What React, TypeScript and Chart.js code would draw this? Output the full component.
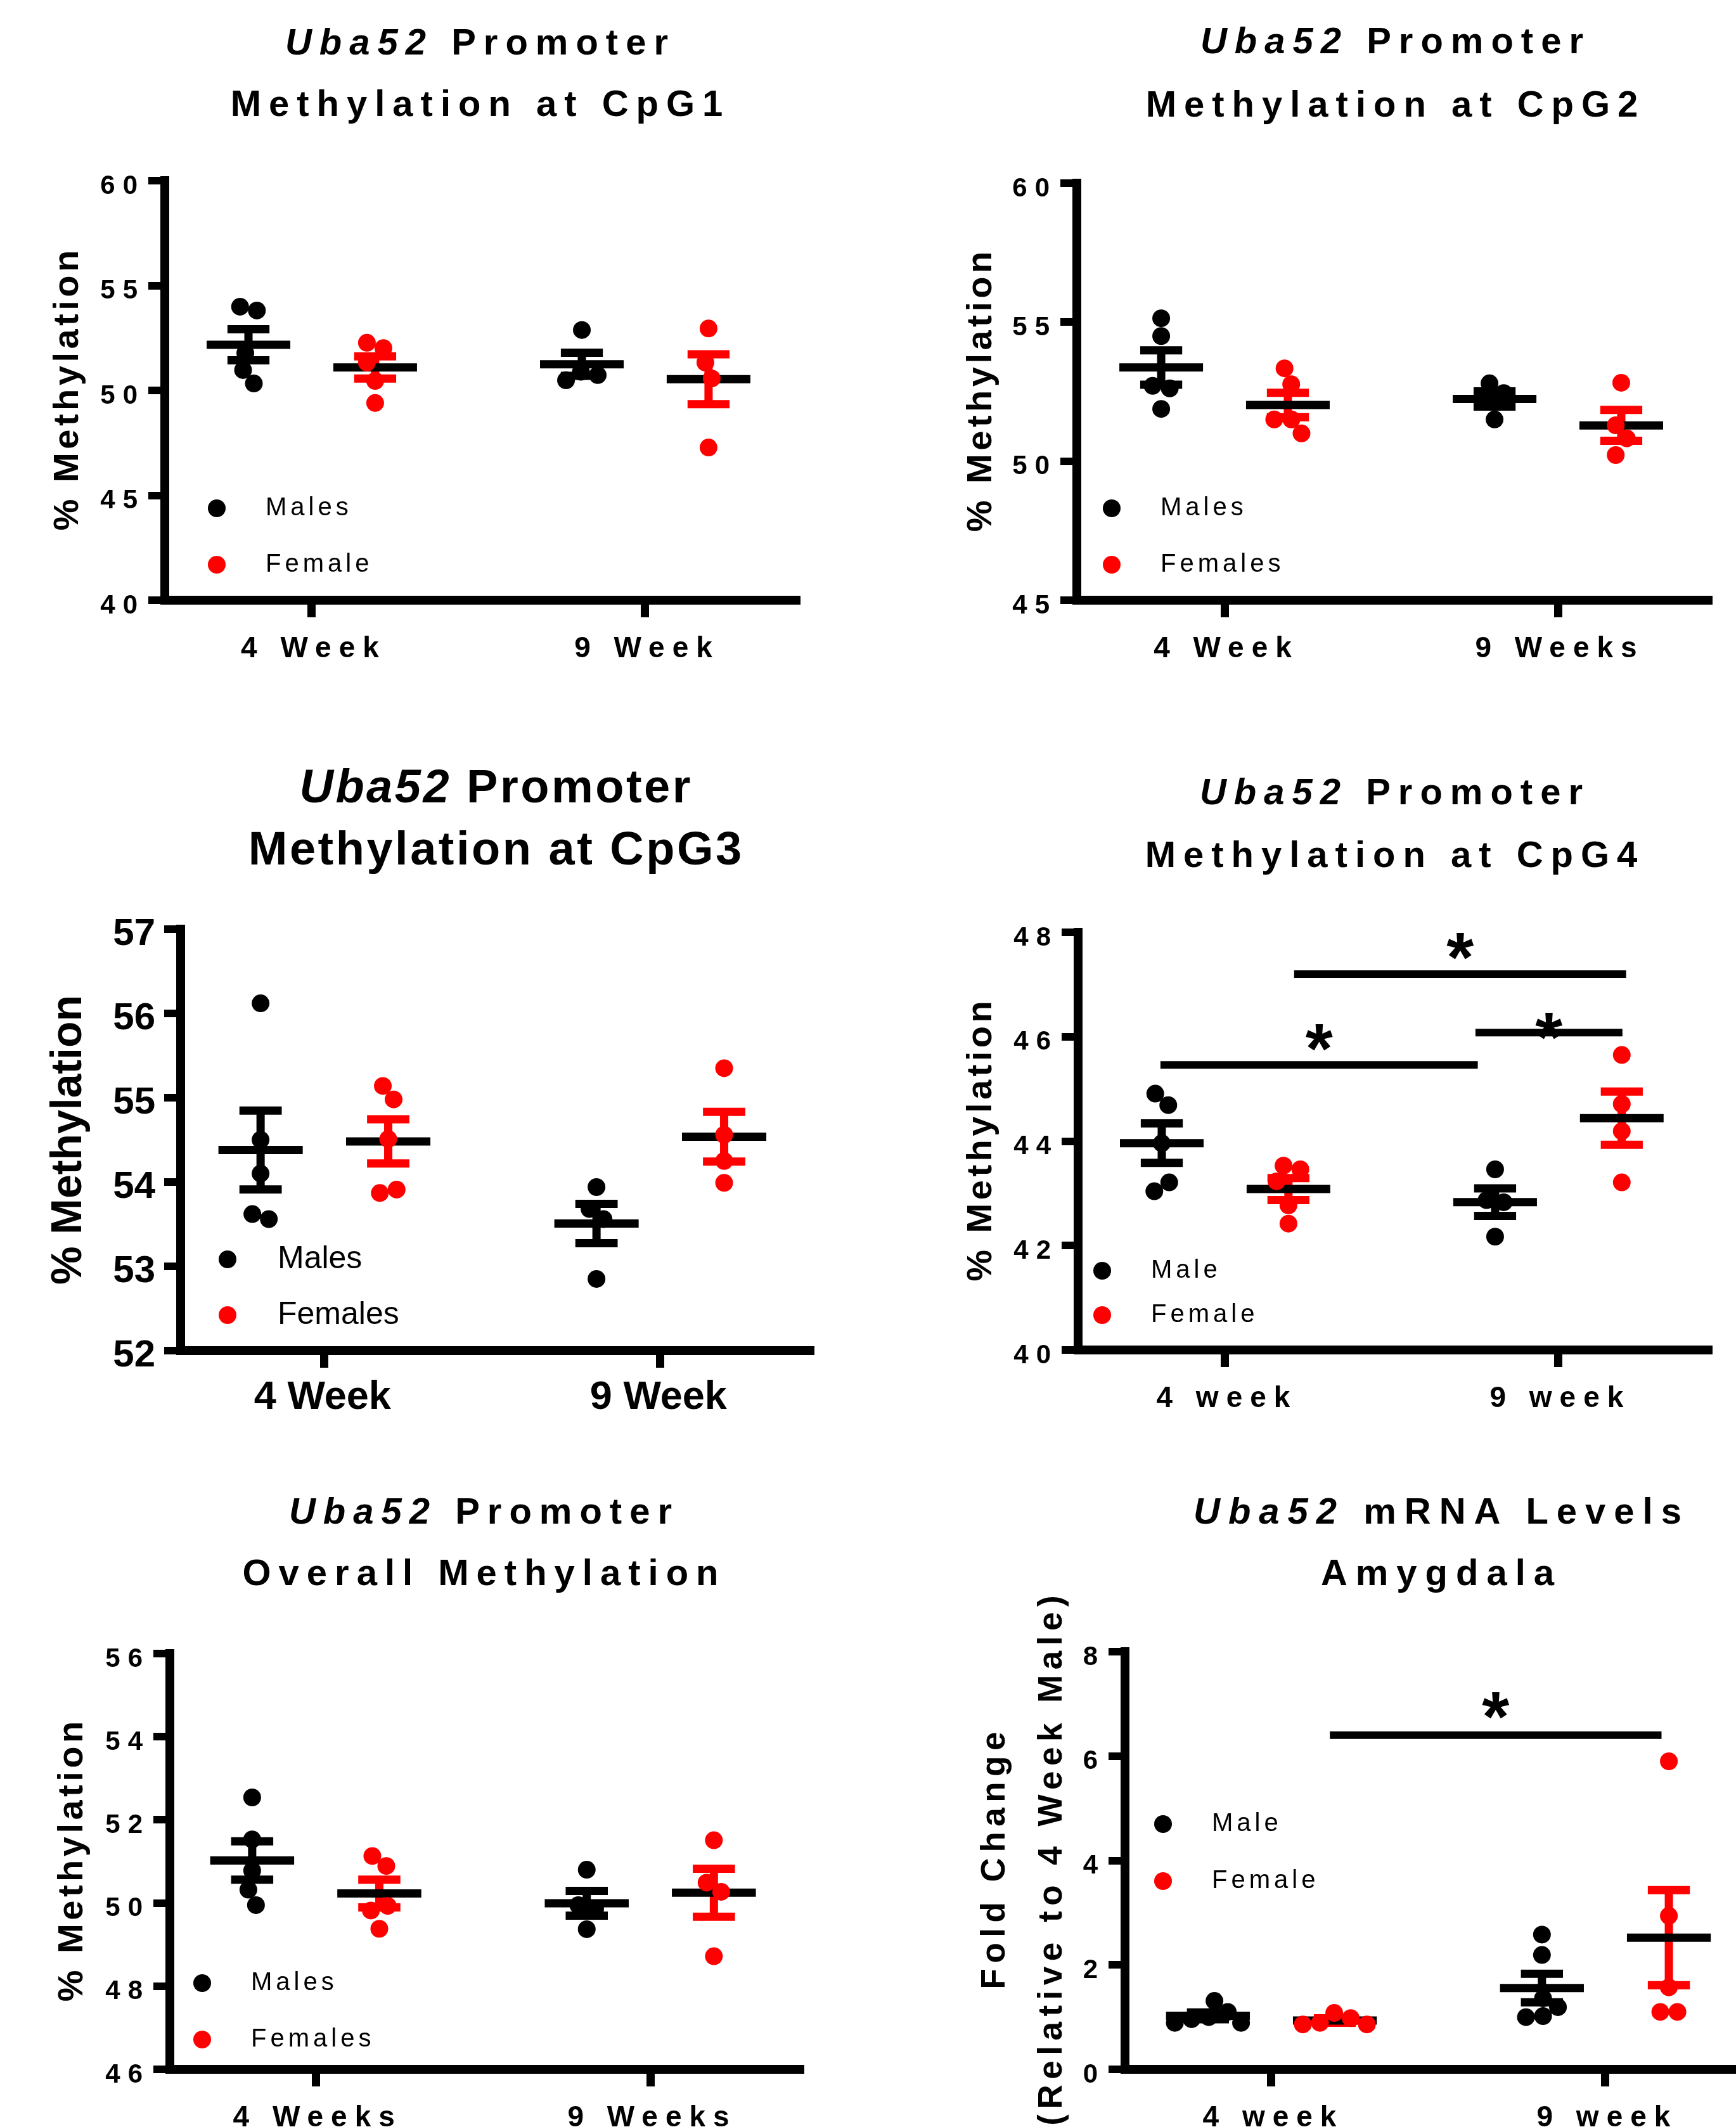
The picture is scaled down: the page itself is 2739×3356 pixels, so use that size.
import React, { useEffect, useRef } from 'react';
import { Chart, registerables } from 'chart.js';

Chart.register(...registerables);

// ---------------- data ----------------
// CpG1
const cpg1Ticks = ['4 Week', '9 Week'];
const cpg1Legend = ['Males', 'Female'];
const cpg1Male4 = [53.99, 53.81, 51.78, 50.97, 50.33];
const cpg1Female4 = [52.27, 52.02, 51.33, 50.45, 49.4];
const cpg1Male9 = [52.88, 50.89, 50.73, 50.48];
const cpg1Female9 = [52.95, 51.33, 50.57, 47.28];

// CpG2
const cpg2Ticks = ['4 Week', '9 Weeks'];
const cpg2Legend = ['Males', 'Females'];
const cpg2Male4 = [55.14, 54.5, 52.71, 52.62, 51.88];
const cpg2Female4 = [53.34, 52.77, 51.5, 51.5, 51.0];
const cpg2Male9 = [52.8, 52.45, 52.2, 51.5];
const cpg2Female9 = [52.82, 51.29, 50.82, 50.22];

// CpG3
const cpg3Ticks = ['4 Week', '9 Week'];
const cpg3Legend = ['Males', 'Females'];
const cpg3Male4 = [56.12, 54.5, 54.1, 53.62, 53.56];
const cpg3Female4 = [55.14, 54.98, 54.51, 53.91, 53.87];
const cpg3Male9 = [53.94, 53.68, 53.56, 52.85];
const cpg3Female9 = [55.35, 54.56, 54.25, 53.99];

// CpG4
const cpg4Ticks = ['4 week', '9 week'];
const cpg4Legend = ['Male', 'Female'];
const cpg4Male4 = [44.91, 44.69, 43.96, 43.21, 43.04];
const cpg4Female4 = [43.53, 43.46, 43.23, 42.77, 42.42];
const cpg4Male9 = [43.46, 42.87, 42.83, 42.17];
const cpg4Female9 = [45.65, 44.71, 44.19, 43.21];
const cpg4SigBars = [
  { x1: 0.806, x2: 1.758, y: 45.46 },
  { x1: 1.207, x2: 2.203, y: 47.2 },
  { x1: 1.751, x2: 2.192, y: 46.08 },
];

// Overall
const overallTicks = ['4 Weeks', '9 Weeks'];
const overallLegend = ['Males', 'Females'];
const overallMale4 = [52.54, 51.53, 50.78, 50.32, 49.95];
const overallFemale4 = [51.13, 50.89, 49.93, 49.82, 49.38];
const overallMale9 = [50.8, 49.95, 49.86, 49.37];
const overallFemale9 = [51.51, 50.49, 50.27, 48.72];

// mRNA
const mrnaTicks = ['4 week', '9 week'];
const mrnaLegend = ['Male', 'Female'];
const mrnaMale4 = [1.31, 1.1, 1.0, 0.96, 0.89, 0.89];
const mrnaFemale4 = [1.08, 0.98, 0.89, 0.86, 0.86];
const mrnaMale9 = [2.58, 2.19, 1.36, 1.19, 1.02, 1.0];
const mrnaFemale9 = [5.9, 2.94, 1.57, 1.1, 1.1];
const mrnaSigBars = [{ x1: 1.175, x2: 2.168, y: 6.4 }];

// ---------------- styles / layout ----------------
const FONT = "'Liberation Sans', Arial, Helvetica, sans-serif";
const BLACK = '#000000';
const RED = '#ff0000';
const SEX_COLORS = [BLACK, RED];
const POINT_R = 14;
const GROUP_OFFSET = 0.19;
const MEAN_HALF = 0.1255;
const CAP_HALF = 0.063;
const SWARM_DIST = 27;
const STAR_H = 42;
const Y_AXIS_W = 240;
const X_AXIS_H = 130;
const TOP_PAD = 120;

function mean(a: number[]) {
  return a.reduce((s, v) => s + v, 0) / a.length;
}
function sem(a: number[]) {
  const m = mean(a);
  const v = a.reduce((s, x) => s + (x - m) * (x - m), 0) / (a.length - 1);
  return Math.sqrt(v / a.length);
}

// beeswarm layout (pixel space), then each collision cluster is centred on the group
function swarm(values: number[], center: number, pxX: number, pxY: number) {
  const idx = values.map((_, i) => i).sort((a, b) => values[b] - values[a]);
  const off: number[] = new Array(values.length).fill(0);
  const py = values.map((v) => v * pxY);
  const placed: number[] = [];
  let lastSide = -1;
  for (const i of idx) {
    let chosen = 0;
    outer: for (let a = 0; a < 400; a += 0.5) {
      const sides = a === 0 ? [0] : [-lastSide * a, lastSide * a];
      for (const cand of sides) {
        if (placed.every((j) => Math.hypot(off[j] - cand, py[j] - py[i]) >= SWARM_DIST)) {
          chosen = cand;
          break outer;
        }
      }
    }
    off[i] = chosen;
    if (chosen !== 0) lastSide = Math.sign(chosen);
    placed.push(i);
  }
  const clusters: number[][] = [];
  idx.forEach((i, k) => {
    if (k > 0 && Math.abs(py[idx[k - 1]] - py[i]) < SWARM_DIST) clusters[clusters.length - 1].push(i);
    else clusters.push([i]);
  });
  clusters.forEach((c) => {
    const mn = Math.min(...c.map((i) => off[i]));
    const mx = Math.max(...c.map((i) => off[i]));
    const shift = (mn + mx) / 2;
    c.forEach((i) => (off[i] -= shift));
  });
  return values.map((v, i) => ({ x: center + off[i] / pxX, y: v }));
}

type Panel = {
  id: string;
  L: number; T: number; R: number; B: number; pr: number;
  xMin: number; xMax: number; yMin: number; yMax: number; yStep: number;
  ticks: string[]; legend: string[]; groups: number[][];
  sig: { x1: number; x2: number; y: number }[]; starLift: number[];
  yTitle: string[]; yTitleOffsets: number[]; yTitleSize: number; yTitleSpacing: number;
  yTickSize: number; xTickSize: number; tickSpacing: number; yPad: number; xPad: number; yLabelOffset: number;
  legendDx: number; legendRows: number[]; legendSize: number; legendSpacing: number; legendTextDx: number;
  titleItalic: string; titleRest: string; titleLine2: string;
  titleX: number; titleTop: number; titleSize: number; titleLH: number; titleSpacing: number;
};

const base = {
  pr: 20, yStep: 5, sig: [], starLift: [],
  yTitleSize: 56, yTitleSpacing: 5.5,
  yTickSize: 42, xTickSize: 46, tickSpacing: 12, yPad: 5, xPad: 23, yLabelOffset: 9,
  legendSize: 40, legendSpacing: 6, legendTextDx: 77,
  titleSize: 58, titleSpacing: 12, titleItalic: 'Uba52',
};

const PANELS: Panel[] = [
  {
    ...base, id: 'cpg1',
    L: 260, T: 285, R: 1256, B: 947, xMin: 0.559, xMax: 2.4525, yMin: 40, yMax: 60, yStep: 5,
    ticks: cpg1Ticks, legend: cpg1Legend, groups: [cpg1Male4, cpg1Female4, cpg1Male9, cpg1Female9],
    yTitle: ['% Methylation'], yTitleOffsets: [152],
    legendDx: 82, legendRows: [145, 56],
    titleRest: ' Promoter', titleLine2: 'Methylation at CpG1',
    titleX: 752, titleTop: 17.4, titleLH: 97,
  },
  {
    ...base, id: 'cpg2',
    L: 1699, T: 289, R: 2695, B: 947, xMin: 0.557, xMax: 2.4505, yMin: 45, yMax: 60, yStep: 5,
    ticks: cpg2Ticks, legend: cpg2Legend, groups: [cpg2Male4, cpg2Female4, cpg2Male9, cpg2Female9],
    yTitle: ['% Methylation'], yTitleOffsets: [150],
    legendDx: 55, legendRows: [145, 56],
    titleRest: ' Promoter', titleLine2: 'Methylation at CpG2',
    titleX: 2196, titleTop: 13.9, titleLH: 100,
  },
  {
    ...base, id: 'cpg3',
    L: 285, T: 1466, R: 1278, B: 2131, xMin: 0.572, xMax: 2.4456, yMin: 52, yMax: 57, yStep: 1,
    ticks: cpg3Ticks, legend: cpg3Legend, groups: [cpg3Male4, cpg3Female4, cpg3Male9, cpg3Female9],
    yTitle: ['% Methylation'], yTitleOffsets: [176], yTitleSize: 68, yTitleSpacing: 0,
    yTickSize: 60, xTickSize: 63, tickSpacing: 0, yPad: 14, xPad: 10, yLabelOffset: 8,
    legendDx: 74, legendRows: [144, 56], legendSize: 50, legendSpacing: 0, legendTextDx: 79,
    titleRest: ' Promoter', titleLine2: 'Methylation at CpG3',
    titleX: 781, titleTop: 1192.4, titleSize: 74, titleLH: 98, titleSpacing: 3.5,
  },
  {
    ...base, id: 'cpg4',
    L: 1701, T: 1471, R: 2695, B: 2130, xMin: 0.559, xMax: 2.449, yMin: 40, yMax: 48, yStep: 2,
    ticks: cpg4Ticks, legend: cpg4Legend, groups: [cpg4Male4, cpg4Female4, cpg4Male9, cpg4Female9],
    sig: cpg4SigBars, starLift: [43, 44, 10],
    yTitle: ['% Methylation'], yTitleOffsets: [152.5],
    legendDx: 38, legendRows: [125, 55],
    titleRest: ' Promoter', titleLine2: 'Methylation at CpG4',
    titleX: 2195, titleTop: 1199.4, titleLH: 99,
  },
  {
    ...base, id: 'overall',
    L: 268, T: 2609, R: 1262, B: 3265, xMin: 0.564, xMax: 2.447, yMin: 46, yMax: 56, yStep: 2,
    ticks: overallTicks, legend: overallLegend, groups: [overallMale4, overallFemale4, overallMale9, overallFemale9],
    yTitle: ['% Methylation'], yTitleOffsets: [153],
    legendDx: 51, legendRows: [136, 47],
    titleRest: ' Promoter', titleLine2: 'Overall Methylation',
    titleX: 758, titleTop: 2335.4, titleLH: 97,
  },
  {
    ...base, id: 'mrna',
    L: 1775, T: 2606, R: 2739, B: 3265, pr: 20, xMin: 0.5617, xMax: 2.391, yMin: 0, yMax: 8, yStep: 2,
    ticks: mrnaTicks, legend: mrnaLegend, groups: [mrnaMale4, mrnaFemale4, mrnaMale9, mrnaFemale9],
    sig: mrnaSigBars, starLift: [47],
    yTitle: ['Fold Change', '(Relative to 4 Week Male)'], yTitleOffsets: [205, 115], yTitleSize: 53, yTitleSpacing: 8.5,
    legendDx: 60, legendRows: [387, 297],
    titleRest: ' mRNA Levels', titleLine2: 'Amygdala',
    titleX: 2268, titleTop: 2334.6, titleLH: 97.5, titleSpacing: 13,
  },
];

const decorPlugin = {
  id: 'decor',
  beforeDraw(chart: any, _a: any, o: any) {
    chart.ctx.letterSpacing = `${o.tickSpacing}px`;
  },
  afterDraw(chart: any, _a: any, o: any) {
    const { ctx, chartArea: ca, scales } = chart;
    const xs = scales.x;
    const ys = scales.y;
    ctx.save();
    ctx.fillStyle = BLACK;
    // y-axis title
    ctx.font = `bold ${o.yTitleSize}px ${FONT}`;
    ctx.letterSpacing = `${o.yTitleSpacing}px`;
    ctx.textAlign = 'center';
    ctx.textBaseline = 'middle';
    const midY = (ca.top + ca.bottom) / 2;
    o.yTitle.forEach((line: string, i: number) => {
      ctx.save();
      ctx.translate(ca.left - o.yTitleOffsets[i], midY);
      ctx.rotate(-Math.PI / 2);
      ctx.fillText(line, o.yTitleSpacing / 2, 0);
      ctx.restore();
    });
    // legend
    ctx.font = `${o.legendSize}px ${FONT}`;
    ctx.letterSpacing = `${o.legendSpacing}px`;
    ctx.textAlign = 'left';
    ctx.textBaseline = 'middle';
    o.legend.forEach((label: string, i: number) => {
      const cx = ca.left + o.legendDx;
      const cy = ca.bottom - o.legendRows[i];
      ctx.fillStyle = SEX_COLORS[i];
      ctx.beginPath();
      ctx.arc(cx, cy, POINT_R, 0, Math.PI * 2);
      ctx.fill();
      ctx.fillStyle = BLACK;
      ctx.fillText(label, cx + o.legendTextDx, cy);
    });
    // significance bars
    (o.sig || []).forEach((b: any, i: number) => {
      const x1 = xs.getPixelForValue(b.x1);
      const x2 = xs.getPixelForValue(b.x2);
      const y = ys.getPixelForValue(b.y);
      ctx.strokeStyle = BLACK;
      ctx.lineWidth = 12;
      ctx.lineCap = 'butt';
      ctx.beginPath();
      ctx.moveTo(x1, y);
      ctx.lineTo(x2, y);
      ctx.stroke();
      ctx.letterSpacing = '0px';
      ctx.textAlign = 'center';
      ctx.textBaseline = 'alphabetic';
      ctx.font = `bold 100px ${FONT}`;
      const m = ctx.measureText('*');
      const h = m.actualBoundingBoxAscent + m.actualBoundingBoxDescent;
      const size = (100 * STAR_H) / h;
      ctx.font = `bold ${size}px ${FONT}`;
      const m2 = ctx.measureText('*');
      const cx = (x1 + x2) / 2;
      const cy = y - o.starLift[i];
      const baseY = cy + (m2.actualBoundingBoxAscent - m2.actualBoundingBoxDescent) / 2;
      ctx.fillStyle = BLACK;
      ctx.fillText('*', cx - (m2.actualBoundingBoxRight - m2.actualBoundingBoxLeft) / 2, baseY);
    });
    ctx.restore();
  },
};

function PanelView({ p }: { p: Panel }) {
  const ref = useRef<HTMLCanvasElement>(null);
  const cx = p.L - Y_AXIS_W;
  const cy = p.T - TOP_PAD;
  const cw = p.R - p.L + Y_AXIS_W + p.pr;
  const ch = p.B - p.T + TOP_PAD + X_AXIS_H;

  useEffect(() => {
    const canvas = ref.current;
    if (!canvas) return;
    const pxX = (p.R - p.L) / (p.xMax - p.xMin);
    const pxY = (p.B - p.T) / (p.yMax - p.yMin);
    const centers = [1 - GROUP_OFFSET, 1 + GROUP_OFFSET, 2 - GROUP_OFFSET, 2 + GROUP_OFFSET];
    const datasets: any[] = [];
    p.groups.forEach((vals, gi) => {
      datasets.push({
        data: swarm(vals, centers[gi], pxX, pxY),
        pointRadius: POINT_R,
        pointHoverRadius: POINT_R,
        pointBackgroundColor: SEX_COLORS[gi % 2],
        pointBorderColor: SEX_COLORS[gi % 2],
        pointBorderWidth: 0,
        showLine: false,
        order: 0,
        clip: false,
      });
    });
    const meanData: any[] = [];
    p.groups.forEach((vals, gi) => {
      const c = centers[gi];
      const m = mean(vals);
      meanData.push({ x: c - MEAN_HALF, y: m }, { x: c + MEAN_HALF, y: m }, { x: c, y: null });
    });
    datasets.push({
      data: meanData, showLine: true, borderColor: BLACK, borderWidth: 13, pointRadius: 0,
      borderCapStyle: 'butt', spanGaps: false, order: 1, clip: false,
    });
    [0, 1].forEach((sex) => {
      const d: any[] = [];
      p.groups.forEach((vals, gi) => {
        if (gi % 2 !== sex) return;
        const c = centers[gi];
        const m = mean(vals);
        const e = sem(vals);
        d.push(
          { x: c - CAP_HALF, y: m + e }, { x: c + CAP_HALF, y: m + e }, { x: c, y: null },
          { x: c, y: m + e }, { x: c, y: m - e }, { x: c, y: null },
          { x: c - CAP_HALF, y: m - e }, { x: c + CAP_HALF, y: m - e }, { x: c, y: null },
        );
      });
      datasets.push({
        data: d, showLine: true, borderColor: SEX_COLORS[sex], borderWidth: 13, pointRadius: 0,
        borderCapStyle: 'butt', spanGaps: false, order: 2, clip: false,
      });
    });

    const chart = new Chart(canvas, {
      type: 'scatter',
      data: { datasets },
      plugins: [decorPlugin],
      options: {
        responsive: false,
        devicePixelRatio: 1,
        animation: false,
        events: [],
        layout: { padding: { top: TOP_PAD, right: p.pr, bottom: 0, left: 0 } },
        plugins: {
          legend: { display: false },
          tooltip: { enabled: false },
          title: { display: false },
          decor: {
            tickSpacing: p.tickSpacing,
            yTitle: p.yTitle, yTitleOffsets: p.yTitleOffsets, yTitleSize: p.yTitleSize, yTitleSpacing: p.yTitleSpacing,
            legend: p.legend, legendDx: p.legendDx, legendRows: p.legendRows, legendSize: p.legendSize,
            legendSpacing: p.legendSpacing, legendTextDx: p.legendTextDx,
            sig: p.sig, starLift: p.starLift,
          },
        } as any,
        scales: {
          x: {
            type: 'linear',
            min: p.xMin,
            max: p.xMax,
            afterBuildTicks: (s: any) => { s.ticks = [{ value: 1 }, { value: 2 }]; },
            afterFit: (s: any) => { s.height = X_AXIS_H; },
            ticks: {
              callback: (v: any) => p.ticks[Math.round(Number(v)) - 1],
              color: BLACK,
              font: { family: FONT, size: p.xTickSize, weight: 'bold' },
              padding: p.xPad,
              labelOffset: p.tickSpacing / 2 - 3,
              autoSkip: false,
              maxRotation: 0,
              minRotation: 0,
            },
            grid: {
              display: true, drawOnChartArea: false, drawTicks: true, tickLength: 27,
              lineWidth: 13, color: BLACK, tickColor: BLACK, tickWidth: 13,
            },
            border: { display: true, width: 14, color: BLACK },
          },
          y: {
            type: 'linear',
            min: p.yMin,
            max: p.yMax,
            afterFit: (s: any) => { s.width = Y_AXIS_W; },
            ticks: {
              stepSize: p.yStep,
              color: BLACK,
              font: { family: FONT, size: p.yTickSize, weight: 'bold' },
              padding: p.yPad,
              labelOffset: p.yLabelOffset,
              callback: (v: any) => String(v),
            },
            grid: {
              display: true, drawOnChartArea: false, drawTicks: true, tickLength: 26,
              lineWidth: 12, color: BLACK, tickColor: BLACK, tickWidth: 12,
            },
            border: { display: true, width: 14, color: BLACK },
          },
        },
      } as any,
    });
    return () => chart.destroy();
  }, []);

  return (
    <>
      <canvas
        ref={ref}
        width={cw}
        height={ch}
        style={{ position: 'absolute', left: cx, top: cy, width: cw, height: ch, display: 'block' }}
      />
      <div
        style={{
          position: 'absolute',
          left: p.titleX - 800,
          top: p.titleTop,
          width: 1600,
          paddingLeft: p.titleSpacing / 2,
          textAlign: 'center',
          fontFamily: FONT,
          fontWeight: 'bold',
          fontSize: p.titleSize,
          lineHeight: `${p.titleLH}px`,
          letterSpacing: `${p.titleSpacing}px`,
          whiteSpace: 'pre',
          color: BLACK,
        }}
      >
        <div><i>{p.titleItalic}</i>{p.titleRest}</div>
        <div>{p.titleLine2}</div>
      </div>
    </>
  );
}

export default function App() {
  return (
    <div
      style={{
        position: 'absolute',
        left: 0,
        top: 0,
        width: 2739,
        height: 3356,
        overflow: 'hidden',
        background: '#ffffff',
      }}
    >
      {PANELS.map((p) => (
        <PanelView key={p.id} p={p} />
      ))}
    </div>
  );
}
